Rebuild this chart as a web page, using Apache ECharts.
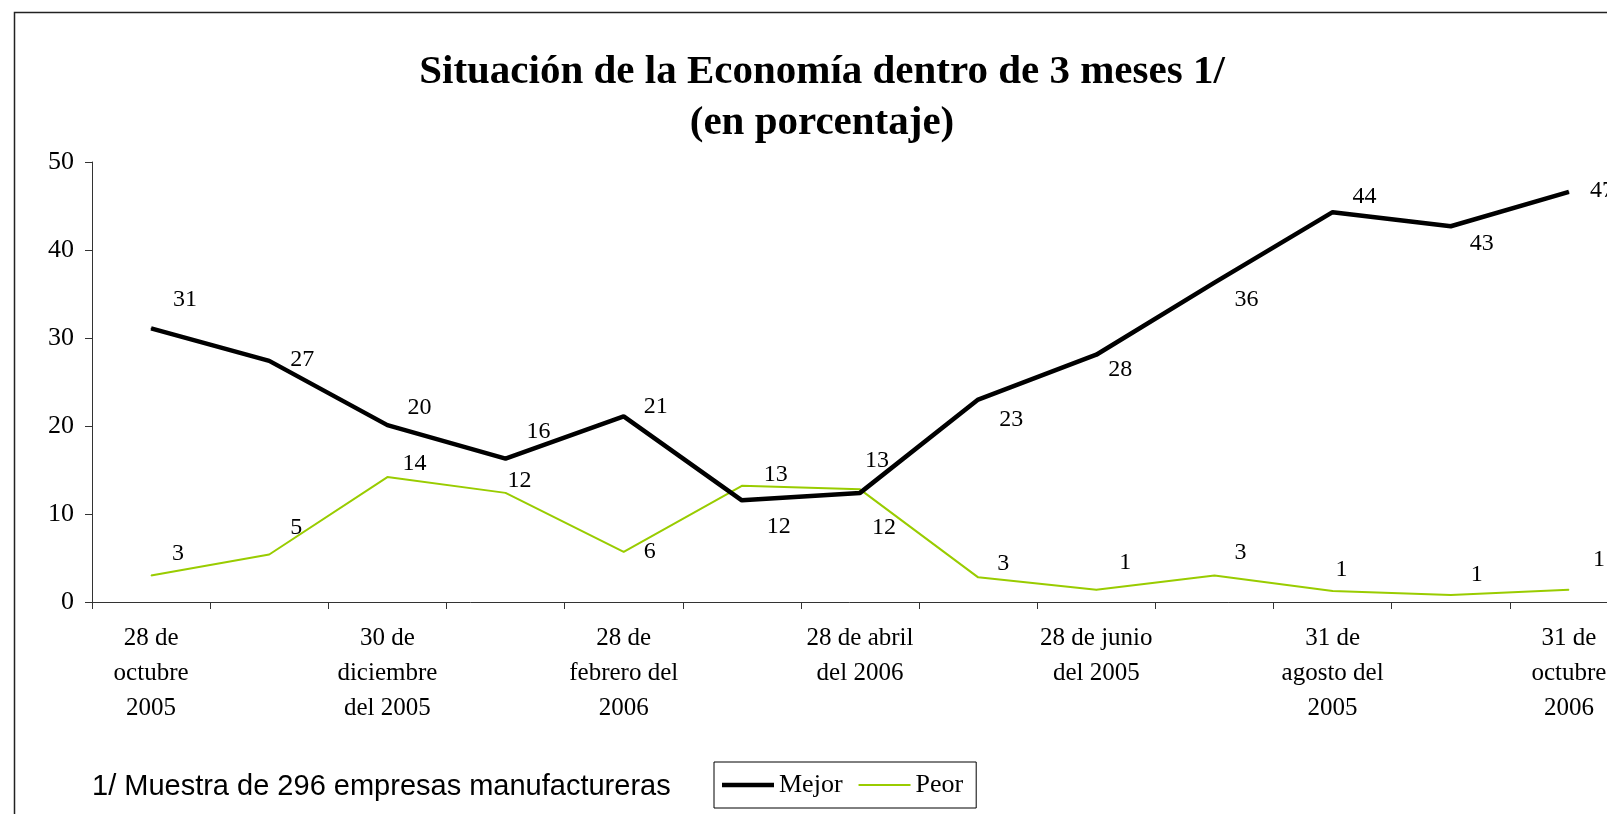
<!DOCTYPE html>
<html>
<head>
<meta charset="utf-8">
<script src="https://cdn.jsdelivr.net/npm/echarts@6/dist/echarts.min.js"></script>
<style>
html,body{margin:0;padding:0;background:#fff;}
#chart{width:1607px;height:814px;}
</style>
</head>
<body>
<div id="chart"></div>
<script>
// ---- data ----
var categories = [
  '28 de\noctubre\n2005', '',
  '30 de\ndiciembre\ndel 2005', '',
  '28 de\nfebrero del\n2006', '',
  '28 de abril\ndel 2006', '',
  '28 de junio\ndel 2005', '',
  '31 de\nagosto del\n2005', '',
  '31 de\noctubre\n2006'
];
var mejor = [31.1, 27.4, 20.1, 16.3, 21.1, 11.55, 12.4, 23.0, 28.1, 36.3, 44.3, 42.7, 46.6];
var peor  = [3.0, 5.4, 14.2, 12.4, 5.7, 13.2, 12.8, 2.8, 1.4, 3.0, 1.25, 0.8, 1.4];
var yTicks = [0, 10, 20, 30, 40, 50];
var titleLines = ['Situación de la Economía dentro de 3 meses 1/', '(en porcentaje)'];
var footnote = '1/ Muestra de 296 empresas manufactureras';

// label placement (pixels, relative to each point)
var mejorLabelOffsets = [[34,-29],[33,-1],[32,-17],[33,-27],[32,-10],[37,26],[24,35],[33,20],[24,15],[32,17],[32,-15],[31,17],[33,-1]];
var peorLabelOffsets  = [[27,-22],[27,-27],[27,-13],[14,-12],[26,0],[34,-11],[17,-29],[25,-14],[29,-27],[26,-23],[9,-21],[26,-20],[30,-30]];

var serif = '"Liberation Serif", "DejaVu Serif", serif';

function buildData(vals, offs) {
  return vals.map(function (v, i) {
    return { value: v, label: { offset: offs[i] } };
  });
}

var chart = echarts.init(document.getElementById('chart'));
var option = {
  backgroundColor: '#fff',
  animation: false,
  grid: { left: 92, top: 162, width: 1536, height: 440, containLabel: false, outerBoundsMode: 'none' },
  legend: {
    left: 714, top: 762,
    orient: 'horizontal',
    data: [
      { name: 'Mejor', icon: 'path://M0,0H52V4.5H0Z' },
      { name: 'Peor', icon: 'path://M0,0H52V2H0Z' }
    ],
    borderColor: '#000', borderWidth: 1,
    padding: [10, 13, 10, 8],
    itemWidth: 52, itemHeight: 14, itemGap: 16,
    textStyle: { fontFamily: serif, fontSize: 26, color: '#000' }
  },
  xAxis: {
    type: 'category',
    data: categories,
    boundaryGap: true,
    axisLine: { lineStyle: { color: '#333', width: 1 } },
    axisTick: { show: true, length: 7, interval: 0, lineStyle: { color: '#333' } },
    axisLabel: {
      interval: 0, margin: 19,
      fontFamily: serif, fontSize: 25, color: '#000', lineHeight: 35, align: 'center'
    },
    splitLine: { show: false }
  },
  yAxis: {
    type: 'value',
    min: yTicks[0], max: yTicks[yTicks.length - 1], interval: 10,
    axisLine: { show: true, lineStyle: { color: '#333', width: 1 } },
    axisTick: { show: true, length: 7, lineStyle: { color: '#333' } },
    axisLabel: { fontFamily: serif, fontSize: 26, color: '#000', margin: 18 },
    splitLine: { show: false }
  },
  series: [
    {
      name: 'Mejor', type: 'line',
      data: buildData(mejor, mejorLabelOffsets),
      symbol: 'circle', symbolSize: 1, showSymbol: true,
      itemStyle: { color: '#000' },
      lineStyle: { color: '#000', width: 4.5 },
      label: {
        show: true, position: 'inside',
        fontFamily: serif, fontSize: 24, color: '#000',
        formatter: function (p) { return Math.round(p.value); }
      },
      z: 3
    },
    {
      name: 'Peor', type: 'line',
      data: buildData(peor, peorLabelOffsets),
      symbol: 'circle', symbolSize: 1, showSymbol: true,
      itemStyle: { color: '#99CC00' },
      lineStyle: { color: '#99CC00', width: 2 },
      label: {
        show: true, position: 'inside',
        fontFamily: serif, fontSize: 24, color: '#000',
        formatter: function (p) { return Math.round(p.value); }
      },
      z: 2
    }
  ],
  graphic: [
    {
      type: 'rect', silent: true, z: -1,
      shape: { x: 14.5, y: 12.5, width: 2000, height: 2000 },
      style: { fill: 'none', stroke: '#222', lineWidth: 1.5 }
    },
    {
      type: 'text', x: 822, y: 72,
      style: { text: titleLines[0], textAlign: 'center', textVerticalAlign: 'middle',
               font: 'bold 41px "Liberation Serif", serif', fill: '#000' }
    },
    {
      type: 'text', x: 822, y: 123,
      style: { text: titleLines[1], textAlign: 'center', textVerticalAlign: 'middle',
               font: 'bold 41px "Liberation Serif", serif', fill: '#000' }
    },
    {
      type: 'text', x: 92, y: 787,
      style: { text: footnote, textAlign: 'left', textVerticalAlign: 'middle',
               font: '29px "Liberation Sans", Arial, sans-serif', fill: '#000' }
    }
  ]
};
chart.setOption(option);
</script>
</body>
</html>
